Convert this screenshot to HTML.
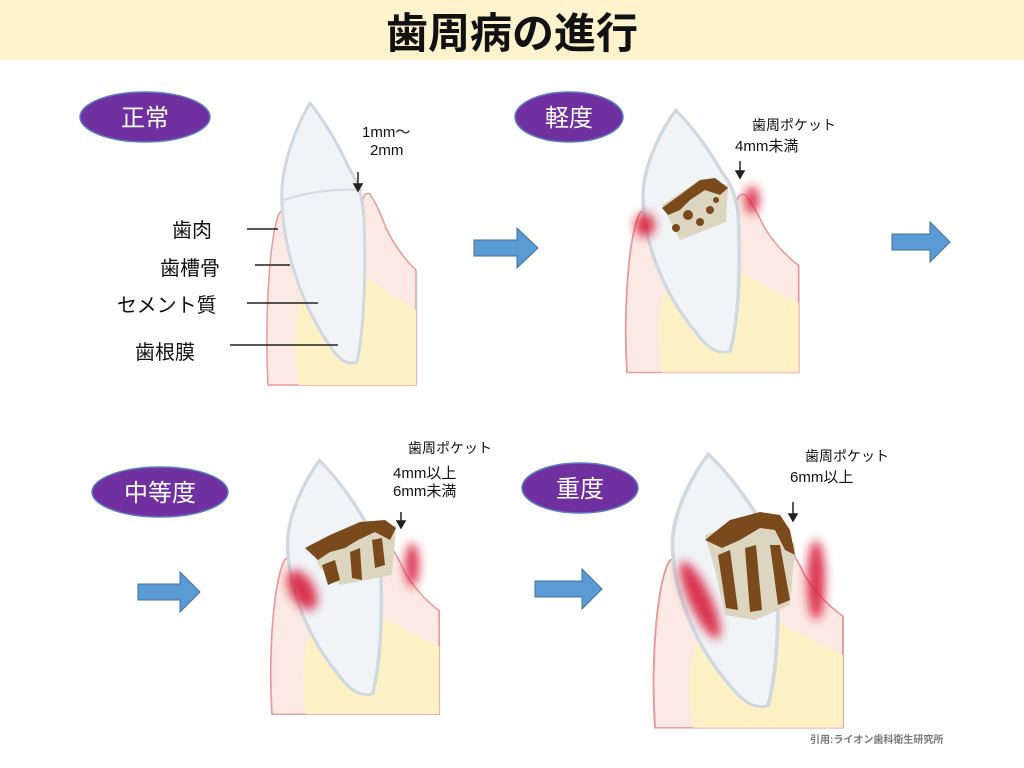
<!DOCTYPE html>
<html><head><meta charset="utf-8"><style>
html,body{margin:0;padding:0;background:#fff;}
svg{display:block;font-family:"Liberation Sans","Noto Sans CJK JP",sans-serif;}
</style></head><body>
<svg width="1024" height="768" viewBox="0 0 1024 768" xmlns="http://www.w3.org/2000/svg">
<defs>
<filter id="bl" x="-50%" y="-50%" width="200%" height="200%"><feGaussianBlur stdDeviation="5"/></filter>
<g id="tooth">
  <path d="M0,307 C-3,250 0,170 10,138 Q14,128 20,136 L94,125 Q96,113 102,116 Q110,128 118,150 Q130,175 148,192 L148,307 Z" fill="#fbe9e3" stroke="#e79a9a" stroke-width="1.5"/>
  <path d="M30,307 C25,260 28,230 35,215 L100,200 Q115,212 148,232 L148,307 Z" fill="#fdf2c6"/>
  <path d="M42,25 C30,45 16,80 14,110 C12,160 30,220 60,265 Q75,290 89,284 C96,250 98,200 96,140 Q94,110 82,92 C72,70 58,45 42,25 Z" fill="#f1f4f7" stroke="#d0d8e0" stroke-width="3"/>
</g>
</defs>
<rect x="0" y="0" width="1024" height="60" fill="#fef3cd"/>
<text x="512" y="48" font-size="42" font-weight="bold" text-anchor="middle" fill="#111">歯周病の進行</text>

<!-- teeth -->
<use href="#tooth" transform="translate(268,78)"/>
<path d="M284,200 Q320,188 362,190" fill="none" stroke="#d3dbe3" stroke-width="2"/>
<use href="#tooth" transform="translate(627,87) scale(1.16,0.93)"/>
<use href="#tooth" transform="translate(272,438) scale(1.13,0.9)"/>
<use href="#tooth" transform="translate(655,430) scale(1.27,0.97)"/>

<!-- red inflammation -->
<g fill="#d81e3a" filter="url(#bl)" opacity="0.9">
  <ellipse cx="645" cy="225" rx="10" ry="12"/>
  <ellipse cx="752" cy="200" rx="7" ry="14"/>
  <ellipse cx="302" cy="590" rx="12" ry="22" transform="rotate(-30 302 590)"/>
  <ellipse cx="412" cy="565" rx="7" ry="22"/>
  <ellipse cx="700" cy="600" rx="11" ry="42" transform="rotate(-25 700 600)"/>
  <ellipse cx="816" cy="580" rx="9" ry="40"/>
</g>

<!-- plaque -->
<g fill="#dcd6c0">
  <path d="M662,205 L700,180 L728,185 L726,222 L680,240 Z"/>
  <path d="M310,545 L360,522 L396,526 L392,575 L340,585 L320,568 Z"/>
  <path d="M705,535 L740,522 L775,518 L795,545 L790,605 L755,620 L725,615 L715,570 Z"/>
</g>
<g fill="#7b4a1c">
  <path d="M662,208 L680,195 L700,180 L715,178 L728,188 L720,195 L705,190 L690,200 L680,210 L668,215 Z"/>
  <circle cx="688" cy="215" r="5"/><circle cx="700" cy="222" r="4"/><circle cx="710" cy="210" r="4"/><circle cx="676" cy="228" r="4"/><circle cx="716" cy="200" r="3"/>
  <path d="M305,548 L330,535 L360,522 L385,520 L396,528 L390,540 L375,532 L358,540 L345,548 L330,552 L318,560 Z"/>
  <path d="M322,565 L335,560 L340,580 L328,585 Z"/><path d="M350,552 L360,548 L362,580 L352,578 Z"/><path d="M372,540 L382,538 L385,565 L375,568 Z"/>
  <path d="M705,540 L730,520 L760,512 L780,515 L790,530 L795,555 L785,550 L775,530 L760,528 L740,540 L722,548 Z"/>
  <path d="M718,555 L730,550 L738,610 L726,608 Z"/><path d="M745,548 L756,545 L762,610 L750,612 Z"/><path d="M770,545 L780,545 L790,600 L778,605 Z"/>
</g>

<!-- labels tooth 1 -->
<g font-size="20" fill="#111">
  <text x="172" y="237">歯肉</text>
  <text x="160" y="275">歯槽骨</text>
  <text x="117" y="312">セメント質</text>
  <text x="135" y="359">歯根膜</text>
</g>
<g stroke="#222" stroke-width="1.5">
  <line x1="247" y1="229" x2="278" y2="229"/>
  <line x1="255" y1="265" x2="290" y2="265"/>
  <line x1="247" y1="303" x2="318" y2="303"/>
  <line x1="230" y1="345" x2="338" y2="345"/>
</g>

<!-- annotations -->
<g font-size="15" fill="#111">
  <text x="362" y="137">1mm～</text>
  <text x="370" y="155">2mm</text>
  <text x="752" y="130" font-size="14">歯周ポケット</text>
  <text x="735" y="151">4mm未満</text>
  <text x="408" y="453" font-size="14">歯周ポケット</text>
  <text x="393" y="478">4mm以上</text>
  <text x="393" y="496">6mm未満</text>
  <text x="805" y="461" font-size="14">歯周ポケット</text>
  <text x="790" y="482">6mm以上</text>
</g>
<g stroke="#222" stroke-width="1.5" fill="#222">
  <line x1="358" y1="172" x2="358" y2="186"/><path d="M354,184 L362,184 L358,191 Z"/>
  <line x1="740" y1="161" x2="740" y2="173"/><path d="M736,171 L744,171 L740,178 Z"/>
  <line x1="401" y1="512" x2="401" y2="523"/><path d="M397,521 L405,521 L401,528 Z"/>
  <line x1="793" y1="502" x2="793" y2="516"/><path d="M789,514 L797,514 L793,521 Z"/>
</g>

<!-- stage ellipses -->
<g fill="#7030a0" stroke="#5b7fc0" stroke-width="1.5">
  <ellipse cx="145" cy="117" rx="65" ry="25"/>
  <ellipse cx="569" cy="117" rx="54" ry="25"/>
  <ellipse cx="160" cy="492" rx="68" ry="25"/>
  <ellipse cx="580" cy="488" rx="58" ry="25"/>
</g>
<g fill="#fff" font-size="24" text-anchor="middle">
  <text x="145" y="126">正常</text>
  <text x="569" y="126">軽度</text>
  <text x="160" y="501">中等度</text>
  <text x="580" y="497">重度</text>
</g>

<!-- arrows -->
<g fill="#5b9bd5" stroke="#41719c" stroke-width="1">
  <path d="M474,240 L517,240 L517,228 L538,248 L517,268 L517,256 L474,256 Z"/>
  <path d="M892,234 L930,234 L930,222 L950,242 L930,262 L930,250 L892,250 Z"/>
  <path d="M138,584 L180,584 L180,572 L200,592 L180,612 L180,600 L138,600 Z"/>
  <path d="M535,581 L582,581 L582,569 L602,589 L582,609 L582,597 L535,597 Z"/>
</g>

<text x="810" y="743" font-size="10" font-weight="bold" fill="#777">引用:ライオン歯科衛生研究所</text>
</svg>
</body></html>
